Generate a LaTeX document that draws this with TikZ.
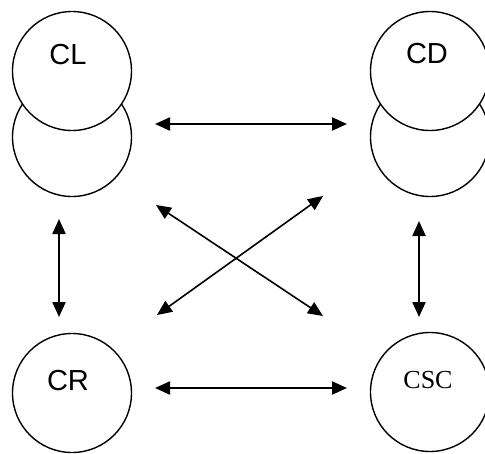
\documentclass[tikz,border=0pt]{standalone}
\usepackage{fontspec}
\newfontfamily\arialfont{Liberation Sans}
\newfontfamily\timesfont{Liberation Serif}
\usetikzlibrary{arrows.meta}

\begin{document}
\begin{tikzpicture}[x=1pt,y=-1pt,
    unit/.style={draw,circle,line width=1.4pt,minimum size=119pt,inner sep=0pt,fill=white},
    tag/.style={inner sep=0pt,font=\arialfont\fontsize{29}{29}\selectfont},
    link/.style={{Triangle[length=15pt,width=13pt]}-{Triangle[length=15pt,width=13pt]},line width=2.2pt},
    cross/.style={link,line width=1.6pt},
  ]
  \clip (0,0) rectangle (485,453);

  % stacked pairs on top, single circles below
  \node[unit] (clback) at (72,137) {};
  \node[unit] (cl) at (72,71) {};
  \node[unit] (cdback) at (430,137) {};
  \node[unit] (cd) at (430,71) {};
  \node[unit] (cr) at (72,393) {};
  \node[unit] (csc) at (430,392) {};

  \node[tag] (cltag) at (68,55) {CL};
  \node[tag] (cdtag) at (427,54) {CD};
  \node[tag] (crtag) at (68,381) {CR};
  \node[inner sep=0pt,font=\timesfont\fontsize{26}{26}\selectfont] (csctag) at (428,380) {CSC};

  % arrow ends
  \coordinate (topl) at (155,124);
  \coordinate (topr) at (347,124);
  \coordinate (botl) at (155,388);
  \coordinate (botr) at (347,388);
  \coordinate (leftu) at (59,219);
  \coordinate (leftd) at (59,317);
  \coordinate (rightu) at (419,221);
  \coordinate (rightd) at (419,317);
  \coordinate (xul) at (156,205);
  \coordinate (xdr) at (323,316);
  \coordinate (xur) at (323,196);
  \coordinate (xdl) at (157,315);

  \draw[link] (topl) -- (topr);
  \draw[link] (botl) -- (botr);
  \draw[link] (leftu) -- (leftd);
  \draw[link] (rightu) -- (rightd);
  \draw[cross] (xul) -- (xdr);
  \draw[cross] (xdl) -- (xur);
\end{tikzpicture}
\end{document}
